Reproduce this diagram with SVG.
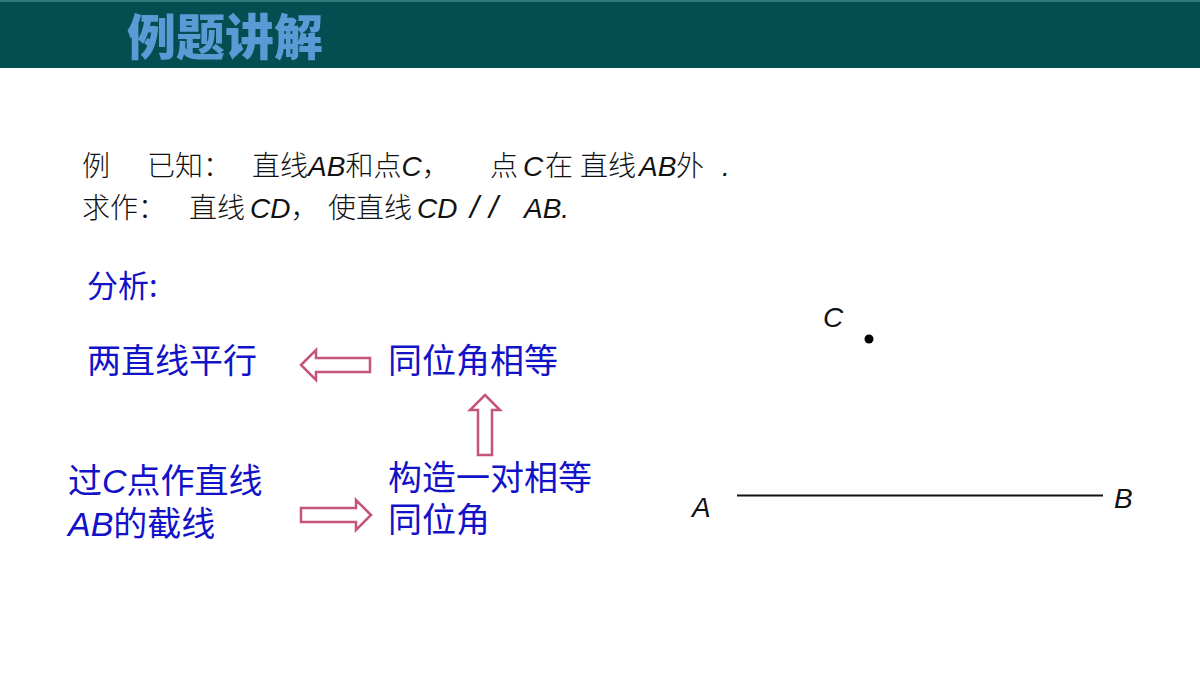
<svg xmlns="http://www.w3.org/2000/svg" width="1200" height="675" viewBox="0 0 1200 675">
<style>
.cjk{font-family:"Noto Sans CJK SC","Liberation Sans",sans-serif}
.it{font-family:"Liberation Sans","Noto Sans CJK SC",sans-serif;font-style:italic;font-weight:400}
.blk{fill:#111111;font-size:28px;font-weight:300}
.blu{fill:#1212c8;font-size:34px}
.arr{fill:#ffffff;stroke:#c4547a;stroke-width:2.5;stroke-linejoin:miter}
</style>
<rect x="0" y="0" width="1200" height="675" fill="#ffffff"/>
<g id="header">
<rect x="0" y="0" width="1200" height="68" fill="#034e50"/>
<rect x="0" y="0" width="1200" height="2" fill="#2e7d7c"/>
<text x="127" y="55" class="cjk" font-size="49" font-weight="900" fill="#5b9bd5">例题讲解</text>
</g>
<g id="problem" class="cjk blk">
<text x="82" y="176">例<tspan x="147">已知：</tspan><tspan x="252">直线</tspan><tspan class="it">AB</tspan>和点<tspan class="it">C</tspan>，<tspan x="490">点</tspan><tspan class="it" x="523">C</tspan><tspan x="545">在</tspan><tspan x="580">直线</tspan><tspan class="it" x="639">AB</tspan><tspan x="676">外</tspan><tspan class="it" x="722">.</tspan></text>
<text x="82" y="218">求作：<tspan x="189">直线</tspan><tspan class="it" x="250">CD</tspan>，<tspan x="328">使直线</tspan><tspan class="it" x="417">CD</tspan><tspan class="it" x="470" font-size="32">/</tspan><tspan class="it" x="489" font-size="32">/</tspan><tspan class="it" x="524">AB.</tspan></text>
</g>
<g id="analysis" class="cjk blu">
<text x="87" y="297" font-size="31">分析:</text>
</g>
<g id="node-parallel" class="cjk blu"><text x="87" y="373">两直线平行</text></g>
<g id="node-corresponding" class="cjk blu"><text x="388" y="373">同位角相等</text></g>
<g id="node-transversal" class="cjk blu">
<text x="68" y="493">过<tspan class="it">C</tspan>点作直线</text>
<text x="68" y="536"><tspan class="it">AB</tspan>的截线</text>
</g>
<g id="node-construct" class="cjk blu">
<text x="388" y="490">构造一对相等</text>
<text x="388" y="532">同位角</text>
</g>
<g id="connectors">
<polygon class="arr" points="301,365 316,350 316,358 370,358 370,372 316,372 316,380"/>
<polygon class="arr" points="485,395 500,410 492,410 492,455 478,455 478,410 470,410"/>
<polygon class="arr" points="371,515 356,500 356,508 301,508 301,522 356,522 356,530"/>
</g>
<g id="figure">
<line x1="737" y1="495.5" x2="1103" y2="495.5" stroke="#111111" stroke-width="2"/>
<circle cx="869" cy="339" r="4.5" fill="#000000"/>
<text x="823" y="327" class="it" font-size="28" fill="#111111">C</text>
<text x="692" y="517" class="it" font-size="28" fill="#111111">A</text>
<text x="1114" y="508" class="it" font-size="28" fill="#111111">B</text>
</g>
</svg>
